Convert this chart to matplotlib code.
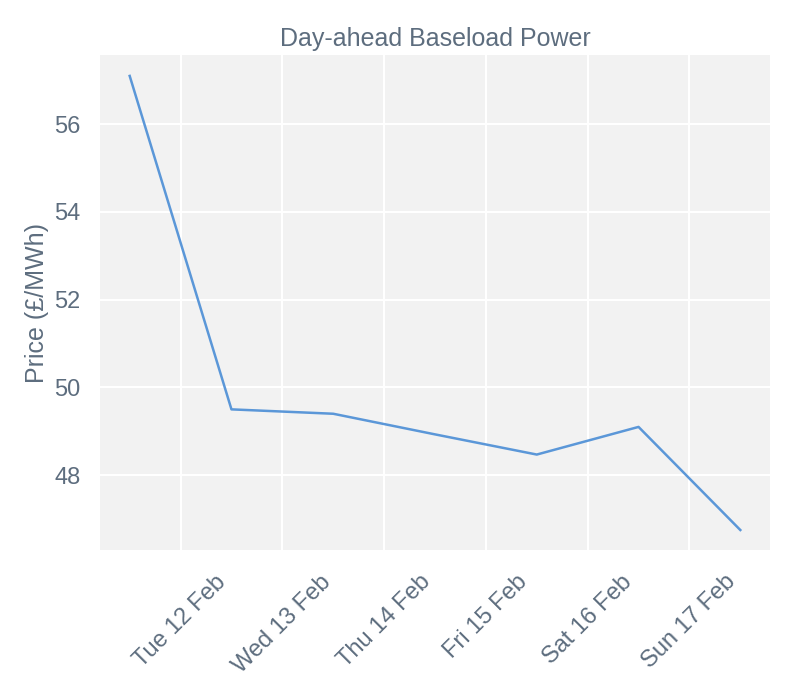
import numpy as np
import pandas as pd
import matplotlib
matplotlib.use("Agg")
import matplotlib.pyplot as plt
import matplotlib.dates as mdates

# day-ahead baseload prices, delivered at midday
days = pd.date_range("2019-02-11 12:00", periods=7, freq="D")
prices = [57.1, 49.5, 49.4, 48.93, 48.47, 49.1, 46.75]

txt = "#5d6d7e"
plt.rcParams["font.family"] = ["Liberation Sans", "DejaVu Sans"]

fig, ax = plt.subplots(figsize=(8, 7), dpi=100)
fig.subplots_adjust(left=0.125, right=0.9625, top=0.921, bottom=0.214)

ax.set_facecolor("#f2f2f2")
ax.plot(days, prices, color="#5b97d8", lw=1.8)
ax.grid(True, color="white", lw=1.5)
ax.set_axisbelow(True)
for s in ax.spines.values():
    s.set_visible(False)

ax.xaxis.set_major_locator(mdates.DayLocator(bymonthday=range(12, 18)))
ax.xaxis.set_major_formatter(mdates.DateFormatter("%a %d %b"))
ax.set_xlim(pd.Timestamp("2019-02-11 05:00"), pd.Timestamp("2019-02-17 19:00"))
ax.set_ylim(46.29, 57.57)
ax.set_yticks([48, 50, 52, 54, 56])
ax.tick_params(length=0, colors=txt, labelsize=17)
ax.tick_params(axis="y", pad=14)
ax.tick_params(axis="x", pad=15)
plt.setp(ax.get_xticklabels(), rotation=45)

ax.set_ylabel("Price (£/MWh)", color=txt, fontsize=18, labelpad=4)
ax.set_title("Day-ahead Baseload Power", color=txt, fontsize=18, pad=7)

fig.savefig("out.png")
